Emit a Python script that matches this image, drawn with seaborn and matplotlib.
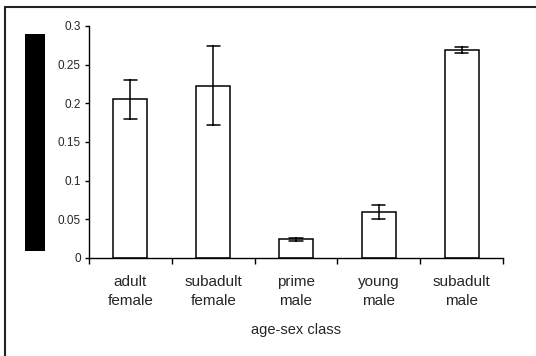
import matplotlib
matplotlib.use("Agg")
import matplotlib.pyplot as plt
import seaborn as sns
import pandas as pd
from matplotlib.patches import Rectangle
from matplotlib.lines import Line2D

categories = ["adult\nfemale", "subadult\nfemale", "prime\nmale", "young\nmale", "subadult\nmale"]
means = [0.205, 0.223, 0.024, 0.059, 0.269]
errors = [0.025, 0.051, 0.002, 0.009, 0.0035]
yticks = [0, 0.05, 0.1, 0.15, 0.2, 0.25, 0.3]
ytick_labels = ["0", "0.05", "0.1", "0.15", "0.2", "0.25", "0.3"]

sns.set_style("white")
plt.rcParams["font.family"] = ["Liberation Sans", "DejaVu Sans"]

# two observations per class so that the min-max interval equals mean +/- error
rows = []
for c, m, e in zip(categories, means, errors):
    rows.append({"cls": c, "val": m - e})
    rows.append({"cls": c, "val": m + e})
df = pd.DataFrame(rows)

fig = plt.figure(figsize=(5.36, 3.56), dpi=100)
ax = fig.add_axes([89 / 536, 1 - 258 / 356, (503 - 89) / 536, (258 - 26) / 356])

sns.barplot(data=df, x="cls", y="val", order=categories, estimator="mean",
            errorbar=("pi", 100), capsize=0.16, width=0.41,
            color="white", edgecolor="black", linewidth=1.1,
            err_kws={"color": "black", "linewidth": 1.1}, ax=ax)

ax.set_xlim(-0.5, len(categories) - 0.5)
ax.set_ylim(0, 0.3)
ax.set_yticks(yticks)
ax.set_yticklabels(ytick_labels, fontsize=8.5)
ax.set_xticks(range(len(categories)))
ax.set_xticklabels(categories, fontsize=11, linespacing=1.45)
ax.tick_params(axis="x", length=0, pad=12)
ax.tick_params(axis="y", length=3, width=1, direction="out", pad=3, left=True, color="black")
# boundary ticks between categories
ax.set_xticks([i - 0.5 for i in range(len(categories) + 1)], minor=True)
ax.tick_params(axis="x", which="minor", length=4, width=1, direction="out", bottom=True, color="black")

ax.set_xlabel("age-sex class", fontsize=10.5, labelpad=11)
ax.set_ylabel("")
for s in ["top", "right"]:
    ax.spines[s].set_visible(False)
for s in ["left", "bottom"]:
    ax.spines[s].set_color("black")
    ax.spines[s].set_linewidth(1)

# black block at left and outer frame
fig.patches.append(Rectangle((25 / 536, 1 - 251 / 356), 20 / 536, 217 / 356,
                             transform=fig.transFigure, facecolor="black", edgecolor="none"))
fig.lines.append(Line2D([4.5 / 536, 4.5 / 536], [0, 1 - 7 / 356], transform=fig.transFigure,
                        color="#222222", linewidth=1.5))
fig.lines.append(Line2D([4.5 / 536, 1], [1 - 7 / 356, 1 - 7 / 356], transform=fig.transFigure,
                        color="#222222", linewidth=1.5))

fig.savefig("out.png", dpi=100)
